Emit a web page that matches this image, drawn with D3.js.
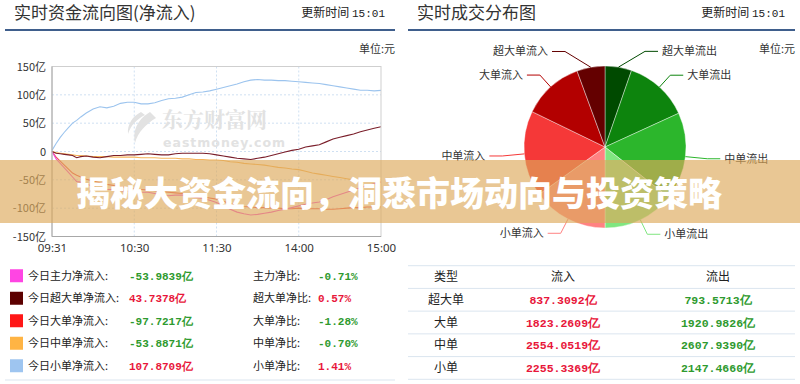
<!DOCTYPE html>
<html>
<head>
  <meta charset="utf-8">
  <title>资金流向</title>
  <script src="https://d3js.org/d3.v7.min.js"></script>
  <style>
    body { margin: 0; background: #fff; }
    svg { display: block; font-family: "Noto Sans CJK SC", "Noto Sans", sans-serif; }
    .mono { font-family: "Liberation Mono", "DejaVu Sans Mono", monospace; font-weight: bold; }
  </style>
</head>
<body>
  <script>
    // ---- data ----
    // minute index of the trading day (0 = 09:31, 120 = 11:30/13:00, 240 = 15:00)
    var minuteIdx = [0,3,6,9,12,15,18,21,25,30,35,40,45,50,55,60,65,70,75,80,85,90,95,100,105,110,115,120,
                     125,130,135,140,145,150,155,160,165,170,175,180,185,190,195,200,205,210,215,220,225,230,235,240];
    // net inflow, 亿元
    var mainFlow  = [0,-13,-21,-29,-37,-45,-53,-54,-57,-62,-66,-67,-67,-69,-70,-72,-72,-72,-74,-77,-78,-77,-77,-79,-81,-83,-86,-90,
                     -96,-102,-107,-110,-112,-111,-109,-107,-104,-102,-99,-96,-93,-91,-89,-85,-80,-76,-72,-68,-64,-60,-57,-54];
    var superFlow = [0,-3,-4,-5,-6,-7,-11,-9,-8,-10,-11,-9,-7,-7,-6,-6,-5,-4,-5,-6,-6,-4,-3,-3,-3,-3,-4,-6,
                     -8,-10,-12,-13,-14,-12,-10,-7,-4,-1,2,4,8,10,12,17,22,25,28,31,35,38,41,43.7];
    var largeFlow = [0,-10,-17,-24,-31,-38,-42,-45,-49,-52,-55,-58,-60,-62,-64,-66,-67,-68,-69,-71,-72,-73,-74,-76,-78,-80,-82,-84,
                     -88,-92,-95,-97,-98,-99,-99,-100,-100,-101,-101,-100,-101,-101,-101,-102,-102,-101,-100,-99,-99,-98,-98,-97.7];
    var mediumFlow = [0,-2,-3,-4,-5,-6,-7,-7,-8,-9,-9,-9,-10,-10,-10,-10,-11,-11,-11,-12,-12,-12,-13,-13,-14,-14,-15,-15,
                      -16,-18,-19,-21,-22,-23,-24,-26,-28,-29,-31,-32,-35,-38,-40,-42,-44,-46,-48,-50,-51,-52,-53,-53.9];
    var smallFlow = [2,14,25,34,42,50,55,61,68,75,79,77,80,85,87,87,84,84,86,90,93,94,96,100,104,105,107,110,
                     113,116,119,123,126,127,126,126,125,125,124,123,122,121,120,118,116,114,112,110,108,108,107,107.9];

    var timeTickIdx = [0, 60, 120, 180, 240];
    var timeTickLabels = ["09:31", "10:30", "11:30", "14:00", "15:00"];
    var yTicks = [150, 100, 50, 0, -50, -100, -150];

    var seriesNames  = ["今日主力净流入", "今日超大单净流入", "今日大单净流入", "今日中单净流入", "今日小单净流入"];
    var seriesColors = ["#ff45e3", "#5c0000", "#ff1717", "#ffb444", "#9ec5f0"];
    var lineColors   = ["#f04ad8", "#7a1e2a", "#f05050", "#f5b35a", "#9cc4ee"];
    var netValues    = ["-53.9839亿", "43.7378亿", "-97.7217亿", "-53.8871亿", "107.8709亿"];
    var ratioNames   = ["主力净比", "超大单净比", "大单净比", "中单净比", "小单净比"];
    var ratioValues  = ["-0.71%", "0.57%", "-1.28%", "-0.70%", "1.41%"];

    var tableTypes   = ["超大单", "大单", "中单", "小单"];
    var inflowValues = [837.3092, 1823.2609, 2554.0519, 2255.3369];
    var outflowValues = [793.5713, 1920.9826, 2607.9390, 2147.4660];
    var inColors  = ["#640000", "#b30000", "#f53838", "#ff8282"];
    var outColors = ["#004a00", "#0d840d", "#2cb62c", "#80e680"];

    var red = "#e8163a", green = "#2e9a2e";

    var svg = d3.select("body").append("svg")
      .attr("width", 800).attr("height", 384);
    svg.append("rect").attr("width", 800).attr("height", 384).attr("fill", "#fff");

    // ---- panel headers ----
    function header(x0, x1, title) {
      svg.append("text").attr("x", x0 + 9).attr("y", 19)
        .attr("font-size", 17).attr("fill", "#333").text(title);
      var t = svg.append("text").attr("x", x1 - 10).attr("y", 17)
        .attr("text-anchor", "end").attr("font-size", 12).attr("fill", "#222");
      t.append("tspan").text("更新时间 ");
      t.append("tspan").attr("font-family", "Liberation Mono, monospace").attr("font-size", 11).text("15:01");
      svg.append("line").attr("x1", x0).attr("x2", x1).attr("y1", 30).attr("y2", 30)
        .attr("stroke", "#3f5e8c").attr("stroke-width", 2);
      svg.append("text").attr("x", x1).attr("y", 53).attr("text-anchor", "end")
        .attr("font-size", 11).attr("fill", "#333").text("单位:元");
    }
    header(5, 395, "实时资金流向图(净流入)");
    header(408, 795, "实时成交分布图");

    // ---- line chart ----
    var x = d3.scaleLinear().domain([0, 240]).range([52, 381]);
    var y = d3.scaleLinear().domain([-150, 150]).range([236.5, 66.5]);

    var grid = svg.append("g");
    grid.selectAll(".hg").data(yTicks.filter(function(d) { return Math.abs(d) < 150; }))
      .enter().append("line")
      .attr("x1", x(0)).attr("x2", x(240))
      .attr("y1", function(d) { return y(d); }).attr("y2", function(d) { return y(d); })
      .attr("stroke", "#cfe0f2").attr("stroke-dasharray", "2,2");
    grid.selectAll(".vg").data(timeTickIdx.slice(1, 4))
      .enter().append("line")
      .attr("y1", y(150)).attr("y2", y(-150))
      .attr("x1", function(d) { return x(d); }).attr("x2", function(d) { return x(d); })
      .attr("stroke", "#cfe0f2").attr("stroke-dasharray", "2,2");

    // watermark
    var wm = svg.append("g").attr("fill", "#e2e2e2");
    wm.append("path").attr("d", "M150,112 C140,118 132,128 135,143 C138,132 146,124 156,118 C154,116 152,114 150,112 Z");
    wm.append("path").attr("d", "M141,112 C133,116 127,124 128,134 C131,125 137,119 145,115 Z");
    wm.append("text").attr("x", 162).attr("y", 127).attr("font-size", 21).attr("font-weight", "bold")
      .attr("font-family", "Noto Serif CJK SC, Noto Sans CJK SC, serif").text("东方财富网");
    wm.append("text").attr("x", 163).attr("y", 147).attr("font-size", 12.5).attr("font-weight", "bold")
      .attr("letter-spacing", 1).attr("font-family", "DejaVu Sans, sans-serif").text("eastmoney.com");

    var lineGen = function(vals) {
      return d3.line()
        .x(function(d, i) { return x(minuteIdx[i]); })
        .y(function(d) { return y(d); })(vals);
    };
    var allSeries = [mainFlow, superFlow, largeFlow, mediumFlow, smallFlow];
    var drawOrder = [3, 2, 0, 1, 4];
    drawOrder.forEach(function(k) {
      svg.append("path").attr("d", lineGen(allSeries[k]))
        .attr("fill", "none").attr("stroke", lineColors[k]).attr("stroke-width", 1.1);
    });

    // frame
    svg.append("rect").attr("x", x(0)).attr("y", y(150))
      .attr("width", x(240) - x(0)).attr("height", y(-150) - y(150))
      .attr("fill", "none").attr("stroke", "#cfcfcf");
    svg.append("path")
      .attr("d", "M" + x(0) + "," + y(150) + "V" + y(-150) + "H" + x(240))
      .attr("fill", "none").attr("stroke", "#a8a8a8");

    var yAxis = d3.axisLeft(y).tickValues(yTicks).tickSize(0).tickPadding(6)
      .tickFormat(function(d) { return d === 0 ? "0" : d + "亿"; });
    var yg = svg.append("g").attr("transform", "translate(" + x(0) + ",0)").call(yAxis);
    yg.select(".domain").remove();
    yg.selectAll("text").attr("font-size", 11).attr("fill", "#333")
      .attr("font-family", "Noto Sans CJK SC, sans-serif");

    var xAxis = d3.axisBottom(x).tickValues(timeTickIdx).tickSize(0).tickPadding(7)
      .tickFormat(function(d, i) { return timeTickLabels[i]; });
    var xg = svg.append("g").attr("transform", "translate(0," + y(-150) + ")").call(xAxis);
    xg.select(".domain").remove();
    xg.selectAll("text").attr("font-size", 11.5).attr("fill", "#333")
      .attr("font-family", "Noto Sans, sans-serif");

    // ---- left legend table ----
    var rowY = d3.scaleBand().domain(d3.range(5)).range([264.5, 377]);
    var lg = svg.append("g");
    var rows = lg.selectAll("g").data(seriesNames).enter().append("g")
      .attr("transform", function(d, i) { return "translate(0," + (rowY(i) + rowY.bandwidth() / 2) + ")"; });
    rows.append("rect").attr("x", 10).attr("y", -6.5).attr("width", 13).attr("height", 13)
      .attr("fill", function(d, i) { return seriesColors[i]; });
    rows.append("text").attr("x", 28).attr("dy", "0.35em").attr("font-size", 11).attr("fill", "#222")
      .text(function(d) { return d + ":"; });
    rows.append("text").attr("class", "mono").attr("font-size", 11).attr("x", 129).attr("dy", "0.35em")
      .attr("fill", function(d, i) { return netValues[i].charAt(0) === "-" ? green : red; })
      .text(function(d, i) { return netValues[i]; });
    rows.append("text").attr("x", 253).attr("dy", "0.35em").attr("font-size", 11).attr("fill", "#222")
      .text(function(d, i) { return ratioNames[i] + ":"; });
    rows.append("text").attr("class", "mono").attr("font-size", 11).attr("x", 318).attr("dy", "0.35em")
      .attr("fill", function(d, i) { return ratioValues[i].charAt(0) === "-" ? green : red; })
      .text(function(d, i) { return ratioValues[i]; });
    lg.append("line").attr("x1", 5).attr("x2", 395).attr("y1", 380).attr("y2", 380)
      .attr("stroke", "#dbe5ef");

    // ---- pie ----
    var pieData = [];
    outflowValues.forEach(function(v, i) { pieData.push({ name: tableTypes[i] + "流出", value: v, color: outColors[i] }); });
    for (var i = 3; i >= 0; i--) pieData.push({ name: tableTypes[i] + "流入", value: inflowValues[i], color: inColors[i] });

    var cx = 605, cy = 147, R = 81;
    var arcs = d3.pie().sort(null).value(function(d) { return d.value; })(pieData);
    var arc = d3.arc().innerRadius(0).outerRadius(R);
    var pg = svg.append("g").attr("transform", "translate(" + cx + "," + cy + ")");
    pg.selectAll("path").data(arcs).enter().append("path")
      .attr("d", arc).attr("fill", function(d) { return d.data.color; })
      .attr("stroke", "#fff").attr("stroke-width", 0.4);

    arcs.forEach(function(a) {
      var mid = (a.startAngle + a.endAngle) / 2;
      var sx = Math.sin(mid), sy = -Math.cos(mid);
      var p1 = [R * sx, R * sy];
      var dx = (R + 16) * sx;
      var side = dx >= 0 ? 1 : -1;
      var p2 = [side * Math.max(Math.abs(dx), 40), (R + 16) * sy];
      if (Math.abs(sy) < 0.3) p2 = [(R + 22) * sx, (R + 1) * sy + 2];
      var p3 = [p2[0] + side * 13, p2[1]];
      pg.append("polyline").attr("points", [p1, p2, p3].map(function(p) { return p.join(","); }).join(" "))
        .attr("fill", "none").attr("stroke", a.data.color).attr("stroke-width", 1);
      pg.append("text").attr("x", p3[0] + side * 4).attr("y", p3[1]).attr("dy", "0.35em")
        .attr("text-anchor", side > 0 ? "start" : "end")
        .attr("font-size", 11).attr("fill", "#333").text(a.data.name);
    });

    // ---- right table ----
    var tRow = d3.scaleBand().domain(d3.range(5)).range([265.7, 379.3]);
    var colX = [446, 563, 718];
    var tg = svg.append("g");
    tg.selectAll("line").data(d3.range(6)).enter().append("line")
      .attr("x1", 408).attr("x2", 795)
      .attr("y1", function(d) { return d < 5 ? tRow(d) : tRow(4) + tRow.bandwidth(); })
      .attr("y2", function(d) { return d < 5 ? tRow(d) : tRow(4) + tRow.bandwidth(); })
      .attr("stroke", "#dbe5ef");
    ["类型", "流入", "流出"].forEach(function(h, j) {
      tg.append("text").attr("x", colX[j]).attr("y", tRow(0) + tRow.bandwidth() / 2).attr("dy", "0.35em")
        .attr("text-anchor", "middle").attr("font-size", 12).attr("fill", "#222").text(h);
    });
    tableTypes.forEach(function(t, i) {
      var yy = tRow(i + 1) + tRow.bandwidth() / 2;
      tg.append("text").attr("x", colX[0]).attr("y", yy).attr("dy", "0.35em")
        .attr("text-anchor", "middle").attr("font-size", 12).attr("fill", "#222").text(t);
      tg.append("text").attr("class", "mono").attr("x", colX[1]).attr("y", yy).attr("dy", "0.35em")
        .attr("text-anchor", "middle").attr("font-size", 11.5).attr("fill", red)
        .text(inflowValues[i].toFixed(4) + "亿");
      tg.append("text").attr("class", "mono").attr("x", colX[2]).attr("y", yy).attr("dy", "0.35em")
        .attr("text-anchor", "middle").attr("font-size", 11.5).attr("fill", green)
        .text(outflowValues[i].toFixed(4) + "亿");
    });

    // ---- banner ----
    svg.append("rect").attr("x", 0).attr("y", 160).attr("width", 800).attr("height", 63)
      .attr("fill", "rgb(221,169,91)").attr("opacity", 0.65);
    svg.append("text").attr("x", 399).attr("y", 206).attr("text-anchor", "middle")
      .attr("font-size", 34).attr("font-weight", 900).attr("fill", "#fff")
      .text("揭秘大资金流向，洞悉市场动向与投资策略");
  </script>
</body>
</html>
